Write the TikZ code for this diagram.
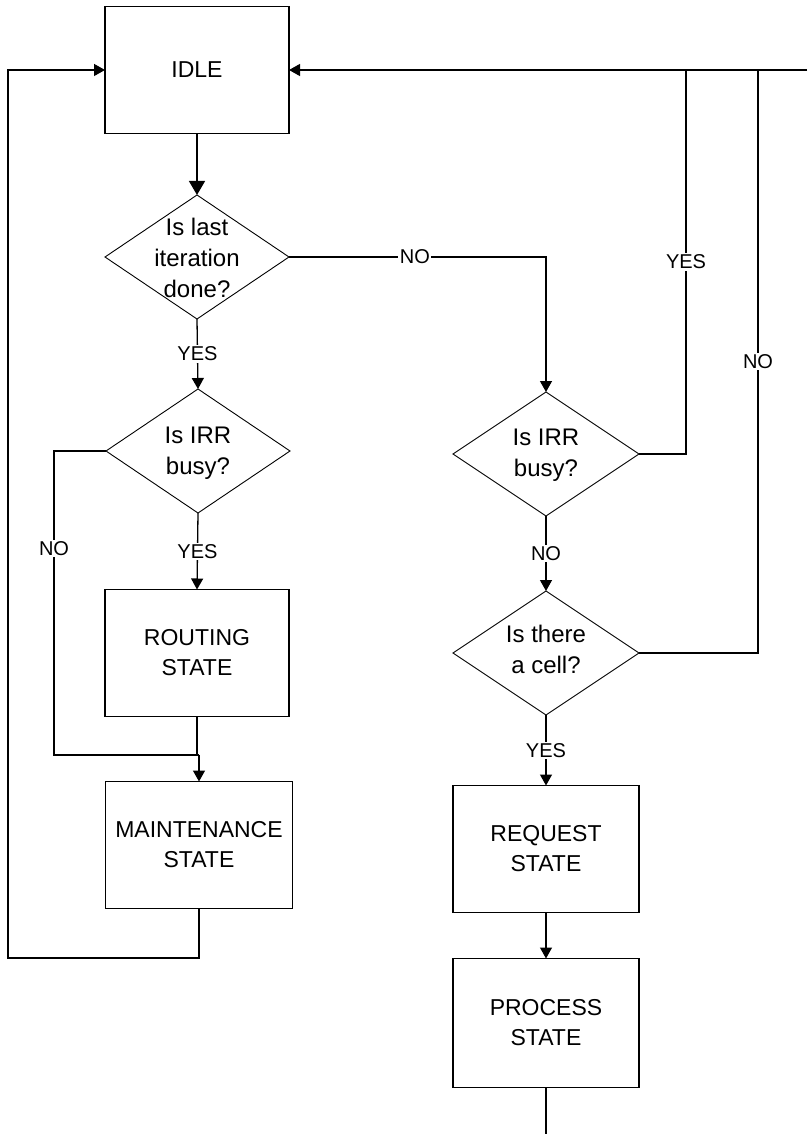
\documentclass[tikz,border=0pt]{standalone}
\usepackage{fontspec}
\setmainfont{Liberation Sans}
\usetikzlibrary{shapes.geometric,arrows.meta}
\begin{document}
\begin{tikzpicture}[x=1pt,y=-1pt,
  every node/.style={outer sep=0pt},
  box/.style={draw,line width=1.3pt,rectangle,minimum width=184pt,minimum height=127pt,inner sep=0pt,align=center,font=\fontsize{23}{30}\selectfont},
  dia/.style={draw,line width=0.9pt,diamond,minimum width=184pt,minimum height=124pt,inner sep=0pt},
  dtext/.style={align=center,font=\fontsize{24}{31}\selectfont},
  lbl/.style={fill=white,inner sep=1.5pt,font=\fontsize{20}{24}\selectfont},
  conn/.style={line width=1.3pt},
  arr/.style={conn,-{Triangle[width=12pt,length=11pt]}},
  bigarr/.style={conn,-{Triangle[width=16pt,length=14pt]}}]
\useasboundingbox (0,0) rectangle (807,1134);
% boxes
\node[box] (idle) at (197,70) {IDLE};
\node[box] (rout) at (197,653) {ROUTING\\STATE};
\node[box,minimum width=187pt] (maint) at (199,845) {MAINTENANCE\\STATE};
\node[box,minimum width=186pt] (req) at (546,849) {REQUEST\\STATE};
\node[box,minimum width=186pt,minimum height=129pt] (proc) at (546,1023) {PROCESS\\STATE};
% diamonds
\node[dia] (d1) at (197,257) {};
\node[dtext] (d1t) at (197,258) {Is last\\iteration\\done?};
\node[dia] (d2) at (198,451) {};
\node[dtext] (d2t) at (198,453) {Is IRR\\busy?};
\node[dia,minimum width=186pt] (d3) at (546,454) {};
\node[dtext] (d3t) at (546,455) {Is IRR\\busy?};
\node[dia,minimum width=186pt] (d4) at (546,653) {};
\node[dtext] (d4t) at (546,649) {Is there\\a cell?};
% junction coordinates
\coordinate (rtop) at (807,70);
\coordinate (yescol) at (686,70);
\coordinate (nocol) at (758,70);
\coordinate (nobend) at (54,755);
\coordinate (jn) at (199,755);
\coordinate (lb) at (8,958);
\coordinate (pend) at (546,1134);
% connectors
\draw[bigarr] (idle.south) -- (d1.north);
\draw[arr] (d1.south) -- node[lbl]{YES} (d2.north);
\draw[arr] (d1.east) -- node[lbl,pos=0.49]{NO} (d3.north |- d1.east) -- (d3.north);
\draw[arr] (d2.south) -- node[lbl]{YES} (rout.north);
\draw[conn] (d2.west) -| node[lbl,pos=0.66]{NO} (nobend) -- (jn);
\draw[conn] (rout.south) |- (jn);
\draw[arr] (jn) -- (maint.north);
\draw[arr] (maint.south) |- (lb) |- (idle.west);
\draw[arr] (d3.south) -- node[lbl]{NO} (d4.north);
\draw[arr] (d4.south) -- node[lbl]{YES} (req.north);
\draw[arr] (req.south) -- (proc.north);
\draw[conn] (proc.south) -- (pend);
\draw[conn] (d3.east) -| node[lbl,pos=0.75]{YES} (yescol);
\draw[conn] (d4.east) -| node[lbl,pos=0.75]{NO} (nocol);
\draw[arr] (rtop) -- (idle.east);
\end{tikzpicture}
\end{document}
